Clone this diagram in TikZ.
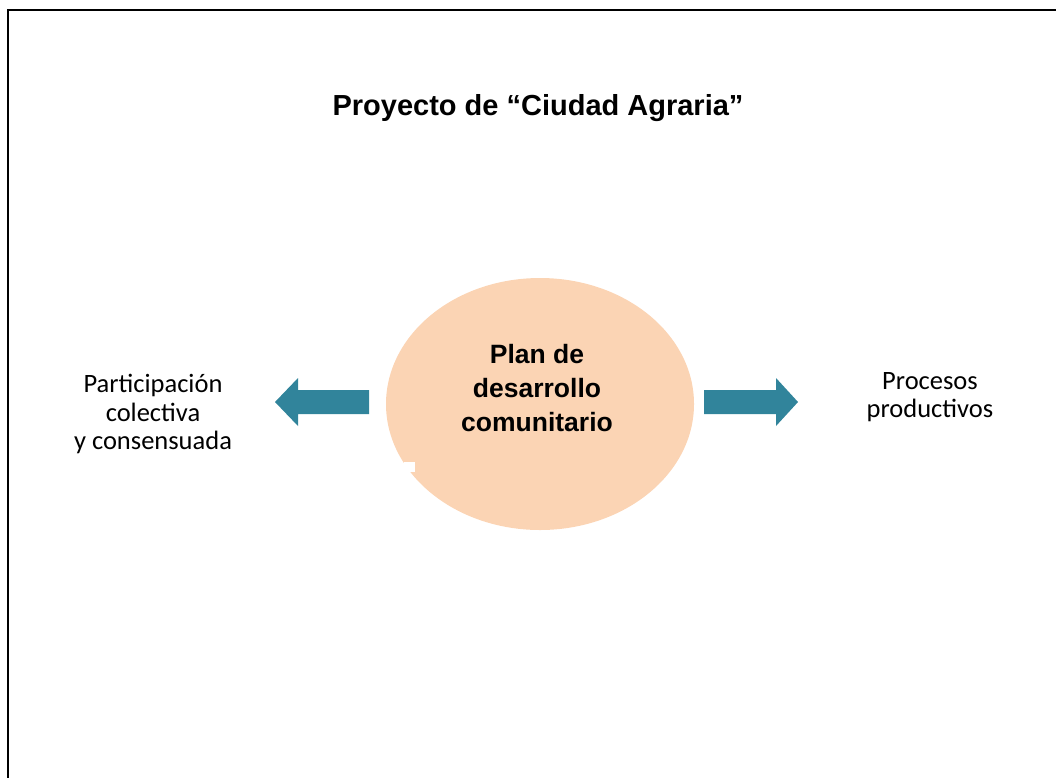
\documentclass[tikz,border=0pt]{standalone}
\usepackage{fontspec}
\setmainfont{Carlito}
\newfontfamily\arialfont{Liberation Sans}
\usepackage{xcolor}
\usetikzlibrary{shapes.geometric, calc}
\definecolor{durazno}{HTML}{FBD4B4}
\definecolor{azulflecha}{HTML}{31849B}
\tikzset{
  etiqueta/.style={align=center, font=\fontsize{26.5}{28.5}\selectfont},
  flecha/.style={fill=azulflecha, draw=none}
}

\begin{document}
\begin{tikzpicture}[x=1pt, y=-1pt]
\useasboundingbox (0,0) rectangle (1056,777);

\coordinate (esquina) at (8,10);
\draw[line width=2.5pt] (8,800) -- (esquina) -- (1080,10);

\node[anchor=base, font=\arialfont\bfseries\fontsize{29}{34}\selectfont] (titulo) at (538,115) {Proyecto de “Ciudad Agraria”};

\node[ellipse, fill=durazno, minimum width=308, minimum height=252, inner sep=0pt] (plan) at (540,404) {};
\fill[white] (404,462) rectangle (415,472);
\node[align=center, font=\arialfont\bfseries\fontsize{26.5}{34}\selectfont] (plantexto) at (537,388) {Plan de\\desarrollo\\comunitario};

\fill[flecha] (369,390) -- (298,390) -- (298,378) -- (275,402) -- (298,426) -- (298,414) -- (369,414) -- cycle;
\fill[flecha] (704,390) -- (776,390) -- (776,378) -- (798,402) -- (776,426) -- (776,414) -- (704,414) -- cycle;

\node[etiqueta] (participacion) at (153,414) {Participación\\colectiva\\y consensuada};
\node[etiqueta] (procesos) at (930,397) {Procesos\\productivos};
\end{tikzpicture}
\end{document}
